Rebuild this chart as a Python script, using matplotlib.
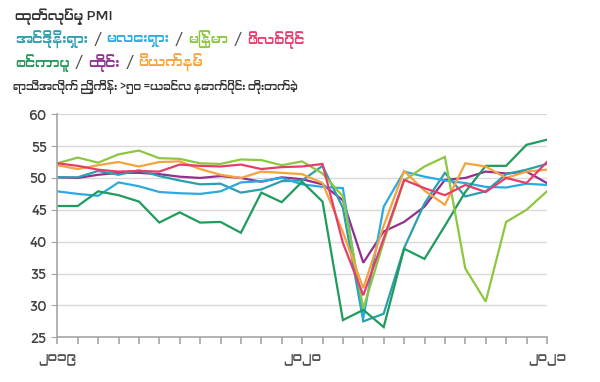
import matplotlib
matplotlib.use("Agg")
import matplotlib.pyplot as plt
from matplotlib import font_manager

# Manufacturing PMI, monthly Jan 2019 .. Jan 2021
months = list(range(25))
tick_pos = [0, 12, 24]
tick_labels = ["၂၀၁၉", "၂၀၂၀", "၂၀၂၁"]

indonesia = [50.1, 50.1, 51.1, 50.5, 51.2, 50.3, 49.6, 49.0, 49.1, 47.7, 48.2, 49.5, 49.6,
             51.9, 45.3, 27.5, 28.7, 39.0, 46.0, 50.8, 47.1, 47.9, 50.6, 51.3, 52.2]
malaysia = [47.9, 47.5, 47.2, 49.3, 48.7, 47.8, 47.6, 47.5, 47.9, 49.3, 49.5, 50.0, 49.0,
            48.6, 48.4, 28.0, 45.5, 51.0, 50.2, 49.6, 49.2, 48.6, 48.5, 49.1, 48.9]
myanmar = [52.3, 53.2, 52.4, 53.7, 54.3, 53.1, 53.0, 52.3, 52.2, 52.9, 52.8, 52.0, 52.6,
           50.7, 47.1, 29.5, 40.0, 49.6, 51.8, 53.3, 35.8, 30.6, 43.1, 45.0, 47.9]
philippines = [52.3, 51.9, 51.3, 51.0, 51.1, 51.0, 52.1, 51.9, 51.8, 52.1, 51.4, 51.7, 51.8,
               52.2, 39.8, 31.6, 40.5, 49.7, 48.4, 47.3, 48.9, 47.8, 50.0, 49.2, 52.5]
singapore = [45.6, 45.6, 47.9, 47.3, 46.3, 43.0, 44.6, 43.0, 43.1, 41.4, 47.7, 46.2, 49.4,
             46.3, 27.7, 29.3, 26.6, 38.9, 37.3, 42.5, 47.8, 51.9, 51.9, 55.2, 56.0]
thailand = [50.1, 50.0, 50.5, 50.8, 50.8, 50.6, 50.2, 50.0, 50.3, 50.0, 49.4, 50.1, 49.8,
            49.0, 46.5, 36.7, 41.6, 43.1, 45.5, 49.7, 50.0, 51.0, 50.7, 51.0, 49.2]
vietnam = [52.0, 51.4, 52.0, 52.5, 51.8, 52.5, 52.6, 51.4, 50.5, 50.0, 51.0, 50.8, 50.6,
           49.2, 41.5, 32.7, 42.5, 51.1, 48.0, 45.8, 52.3, 51.8, 50.0, 51.0, 51.3]

names_row1 = ["အင်ဒိုနီးရှား", "မလေးရှား", "မြန်မာ", "ဖိလစ်ပိုင်"]
names_row2 = ["စင်ကာပူ", "ထိုင်း", "ဗီယက်နမ်"]
title = "ထုတ်လုပ်မှု PMI"
subtitle = "ရာသီအလိုက် ညှိကိန်း >၅၀ =ယခင်လ နောက်ပိုင်း တိုးတက်ခဲ့"

colors = {
    "indonesia": "#2a9fae",
    "malaysia": "#2aaae2",
    "myanmar": "#8dc63f",
    "philippines": "#e63d6a",
    "singapore": "#1f9b5c",
    "thailand": "#92308f",
    "vietnam": "#f5a33c",
}

# look for a font that can draw Myanmar script, if any is installed
mm_font = None
for f in font_manager.fontManager.ttflist:
    if "Myanmar" in f.name or "Padauk" in f.name or "Myanmar" in f.fname:
        mm_font = f.name
        break
families = [mm_font, "DejaVu Sans"] if mm_font else ["DejaVu Sans"]
plt.rcParams["font.family"] = families

fig = plt.figure(figsize=(6, 3.82), dpi=100)
ax = fig.add_axes([0.0955, 0.117, 0.816, 0.584])

series = [
    (thailand, "thailand"),
    (indonesia, "indonesia"),
    (malaysia, "malaysia"),
    (singapore, "singapore"),
    (myanmar, "myanmar"),
    (vietnam, "vietnam"),
    (philippines, "philippines"),
]
for vals, key in series:
    ax.plot(months, vals, color=colors[key], linewidth=1.6, solid_joinstyle="miter")

ax.set_ylim(25, 60)
ax.set_xlim(0, 24)
ax.set_yticks(range(25, 61, 5))
ax.set_xticks(months, minor=True)
ax.set_xticks(tick_pos)
ax.set_xticklabels(tick_labels, fontsize=9.5, color="#555555")
ax.grid(axis="y", color="#d9d9d9", linewidth=1)
ax.set_axisbelow(True)
for s in ["top", "right"]:
    ax.spines[s].set_visible(False)
for s in ["left", "bottom"]:
    ax.spines[s].set_color("#a6a6a6")
    ax.spines[s].set_linewidth(1.2)
ax.tick_params(axis="y", colors="#a6a6a6", labelcolor="#404040", labelsize=10, length=4)
ax.tick_params(axis="x", which="both", colors="#a6a6a6", length=5, width=1.2)
ax.tick_params(axis="x", labelcolor="#555555", pad=6)

# header text
fig.text(0.025, 0.955, title, fontsize=9.5, color="#333333", va="center")
fig.text(0.022, 0.772, subtitle, fontsize=7.6, color="#333333", va="center")

renderer = fig.canvas.get_renderer()


def colored_row(y, items):
    x = 0.025
    for i, (label, key) in enumerate(items):
        t = fig.text(x, y, label, fontsize=10, color=colors[key], va="center",
                     fontweight="normal")
        bb = t.get_window_extent(renderer=renderer)
        x = bb.x1 / fig.bbox.width + 0.009
        if i < len(items) - 1:
            s = fig.text(x, y, "/", fontsize=10, color="#555555", va="center")
            bb = s.get_window_extent(renderer=renderer)
            x = bb.x1 / fig.bbox.width + 0.009


colored_row(0.895, list(zip(names_row1, ["indonesia", "malaysia", "myanmar", "philippines"])))
colored_row(0.835, list(zip(names_row2, ["singapore", "thailand", "vietnam"])))

fig.savefig("out.png", dpi=100)
